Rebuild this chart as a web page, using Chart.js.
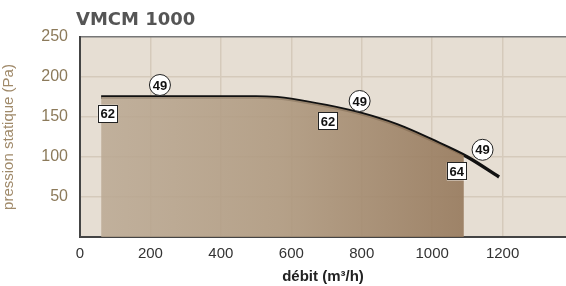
<!DOCTYPE html>
<html><head><meta charset="utf-8">
<script src="https://cdn.jsdelivr.net/npm/chart.js@4.4.1/dist/chart.umd.min.js"></script>
<style>html,body{margin:0;padding:0;background:#fff;}#wrap{width:566px;height:286px;position:relative;}</style>
</head><body><div id="wrap"><canvas id="c" width="566" height="286"></canvas></div>
<script>
const chartTitle = "VMCM 1000";
const xTitle = "débit (m³/h)";
const yTitle = "pression statique (Pa)";
const xTicks = [0, 200, 400, 600, 800, 1000, 1200];
const yTicks = [0, 50, 100, 150, 200, 250];
const curveX = [60, 200, 400, 500, 560, 600, 700, 800, 900, 1000, 1100, 1190];
const curveY = [175, 175, 175, 175, 174, 172, 164, 154, 140, 121, 100, 75];
const areaX = [60, 200, 400, 500, 560, 600, 700, 800, 900, 1000, 1090];
const areaY = [175, 175, 175, 175, 174, 172, 164, 154, 140, 121, 102];
const circleX = [227, 794, 1143];
const circleY = [190, 170, 109];
const circleText = ["49", "49", "49"];
const boxX = [79, 704, 1070];
const boxY = [154, 145, 82];
const boxText = ["62", "62", "64"];

const toPts = (xs, ys) => xs.map((x, i) => ({x: x, y: ys[i]}));
const FONT = '"Liberation Sans", Arial, sans-serif';

const bgPlugin = {
  id: 'bg',
  beforeDraw(chart) {
    const {ctx, chartArea: a} = chart;
    ctx.save();
    ctx.fillStyle = '#e6ded3';
    ctx.fillRect(a.left, a.top, a.right - a.left, a.bottom - a.top);
    ctx.restore();
  },
  afterDraw(chart) {
    const {ctx, scales: {x, y}} = chart;
    ctx.save();
    ctx.fillStyle = '#555555';
    ctx.font = 'bold 18px "DejaVu Sans", sans-serif';
    ctx.textBaseline = 'middle';
    ctx.textAlign = 'left';
    ctx.fillText(chartTitle, 76, 20);
    ctx.font = 'bold 13px ' + FONT;
    ctx.textAlign = 'center';
    boxX.forEach((bx, i) => {
      const px = x.getPixelForValue(bx), py = y.getPixelForValue(boxY[i]);
      ctx.fillStyle = '#ffffff';
      ctx.fillRect(px - 10, py - 9, 20, 18);
      ctx.strokeStyle = '#222';
      ctx.lineWidth = 1;
      ctx.strokeRect(Math.round(px - 10) + 0.5, Math.round(py - 9) + 0.5, 19, 17);
      ctx.fillStyle = '#111';
      ctx.fillText(boxText[i], px, py + 1);
    });
    circleX.forEach((cx, i) => {
      const px = x.getPixelForValue(cx), py = y.getPixelForValue(circleY[i]);
      ctx.beginPath();
      ctx.arc(px, py, 10.5, 0, Math.PI * 2);
      ctx.fillStyle = '#ffffff';
      ctx.fill();
      ctx.strokeStyle = '#222';
      ctx.lineWidth = 1;
      ctx.stroke();
      ctx.fillStyle = '#111';
      ctx.fillText(circleText[i], px, py + 1);
    });
    ctx.restore();
  }
};

new Chart(document.getElementById('c'), {
  type: 'scatter',
  data: {
    datasets: [
      {
        data: toPts(areaX, areaY),
        showLine: true,
        borderWidth: 0,
        borderColor: 'rgba(0,0,0,0)',
        pointRadius: 0,
        cubicInterpolationMode: 'monotone',
        fill: 'origin',
        backgroundColor(ctx) {
          const ch = ctx.chart; const a = ch.chartArea;
          if (!a) return 'rgba(180,160,140,0.85)';
          const xs = ch.scales.x;
          const g = ch.ctx.createLinearGradient(xs.getPixelForValue(60), 0, xs.getPixelForValue(1090), 0);
          g.addColorStop(0, 'rgba(186,168,146,0.85)');
          g.addColorStop(0.5, 'rgba(174,152,126,0.88)');
          g.addColorStop(1, 'rgba(150,121,92,0.9)');
          return g;
        }
      },
      {
        data: toPts(curveX, curveY),
        showLine: true,
        borderWidth: 3.5,
        borderColor: '#111111',
        pointRadius: 0,
        cubicInterpolationMode: 'monotone',
        fill: false
      }
    ]
  },
  options: {
    responsive: false,
    animation: false,
    events: [],
    layout: {padding: {top: 37, right: 0, bottom: 0, left: 0}},
    plugins: {legend: {display: false}, tooltip: {enabled: false}, title: {display: false}},
    scales: {
      x: {
        type: 'linear', min: 0, max: 1380,
        afterFit(s) { s.height = 49; },
        afterBuildTicks(s) { s.ticks = xTicks.map(v => ({value: v})); },
        ticks: {color: '#333333', padding: 8, maxRotation: 0, autoSkip: false,
          callback: v => String(v),
          font: {size: 15, family: FONT}},
        grid: {color: '#d5cabb', lineWidth: 1.5, drawTicks: false},
        border: {color: '#444444', width: 2},
        title: {display: true, text: xTitle, color: '#222222', padding: {top: 0, bottom: 0},
          font: {size: 15, weight: 'bold', family: FONT}}
      },
      y: {
        type: 'linear', min: 0, max: 250,
        afterFit(s) { s.width = 80; },
        afterBuildTicks(s) { s.ticks = yTicks.map(v => ({value: v})); },
        ticks: {color: '#8c7a5a', padding: 12, autoSkip: false,
          callback: v => v === 0 ? '' : String(v),
          font: {size: 16, family: FONT}},
        grid: {color: c => c.tick && c.tick.value === 250 ? '#777777' : '#d5cabb', lineWidth: 1.5, drawTicks: false},
        border: {color: '#444444', width: 2},
        title: {display: true, text: yTitle, color: '#a08a6a', padding: {top: 0, bottom: 2},
          font: {size: 15, family: FONT}}
      }
    }
  },
  plugins: [bgPlugin]
});
</script></body></html>
